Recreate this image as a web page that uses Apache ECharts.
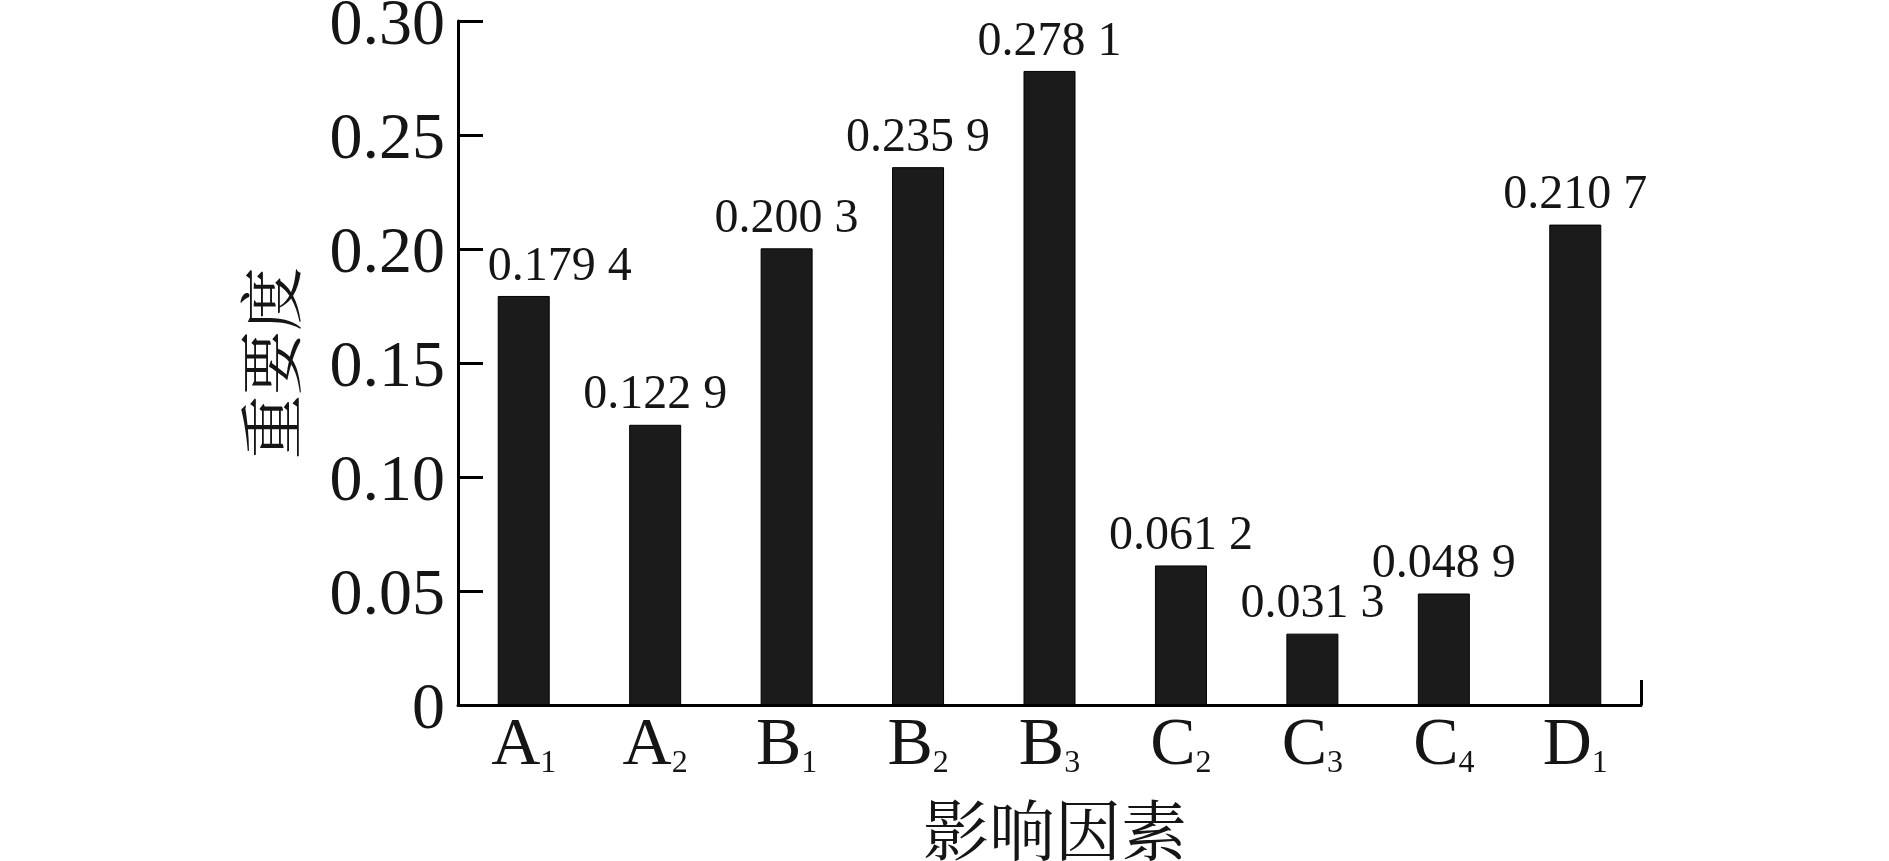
<!DOCTYPE html>
<html>
<head>
<meta charset="utf-8">
<script src="https://cdn.jsdelivr.net/npm/echarts@6/dist/echarts.min.js"></script>
<style>
html,body{margin:0;padding:0;background:#fff;}
#chart{width:1889px;height:861px;}
</style>
</head>
<body>
<div id="chart"></div>
<script>
// Data
const categories = ['A1', 'A2', 'B1', 'B2', 'B3', 'C2', 'C3', 'C4', 'D1'];
const importance = [0.1794, 0.1229, 0.2003, 0.2359, 0.2781, 0.0612, 0.0313, 0.0489, 0.2107];
const yTicks = [0, 0.05, 0.10, 0.15, 0.20, 0.25, 0.30];
const xName = '影响因素';
const yName = '重要度';

const serif = '"Liberation Serif", "Times New Roman", serif';
const cjk = '"Noto Serif CJK SC", "Noto Sans CJK SC", serif';
const ink = '#151515';

const chart = echarts.init(document.getElementById('chart'));

function fmtValue(v) {
  const s = v.toFixed(4);
  return s.slice(0, 5) + ' ' + s.slice(5);
}

const barData = importance.map((v, i) => {
  const item = { value: v };
  if (i === 0) item.label = { offset: [36, 0] };
  return item;
});

chart.setOption({
  animation: false,
  backgroundColor: '#fff',
  grid: { left: 458, right: 248, top: 21, bottom: 156, containLabel: false, outerBoundsMode: 'none' },
  xAxis: [
    {
      type: 'category',
      data: categories,
      z: 5,
      axisLine: { lineStyle: { color: '#000', width: 3 } },
      axisTick: { alignWithLabel: true, inside: true, length: 25, lineStyle: { color: '#000', width: 2 } },
      axisLabel: {
        margin: 7,
        formatter: v => '{m|' + v[0] + '}{s|' + v.slice(1) + '}',
        rich: {
          m: { fontFamily: serif, fontSize: 68, lineHeight: 68, color: ink, verticalAlign: 'bottom' },
          s: { fontFamily: serif, fontSize: 32, lineHeight: 44, color: ink, verticalAlign: 'bottom' }
        }
      },
      name: xName,
      nameLocation: 'middle',
      nameGap: 92,
      nameTextStyle: { fontFamily: cjk, fontSize: 66, color: ink, padding: [0, 0, 0, 11] }
    },
    {
      type: 'category',
      data: categories,
      position: 'bottom',
      z: 5,
      axisLine: { show: false },
      axisLabel: { show: false },
      axisTick: {
        show: true, inside: true, length: 25,
        interval: (i) => i === categories.length - 1,
        lineStyle: { color: '#000', width: 3 }
      }
    }
  ],
  yAxis: {
    type: 'value',
    min: yTicks[0],
    max: yTicks[yTicks.length - 1],
    interval: yTicks[1] - yTicks[0],
    splitLine: { show: false },
    axisLine: { show: true, lineStyle: { color: '#000', width: 3 } },
    axisTick: { show: true, inside: true, length: 25, lineStyle: { color: '#000', width: 3 } },
    axisLabel: {
      margin: 13,
      formatter: v => '{v|' + (v === 0 ? '0' : v.toFixed(2)) + '}',
      rich: {
        v: { fontFamily: serif, fontSize: 66, lineHeight: 66, color: ink, padding: [12, 0, 0, 0] }
      }
    },
    name: yName,
    nameLocation: 'middle',
    nameGap: 155,
    nameRotate: 90,
    nameTextStyle: { fontFamily: cjk, fontSize: 64, color: ink }
  },
  series: [{
    type: 'bar',
    xAxisIndex: 0,
    data: barData,
    barWidth: 52,
    itemStyle: { color: '#1b1b1b', borderColor: '#000', borderWidth: 1 },
    label: {
      show: true,
      position: 'top',
      distance: 5,
      fontFamily: serif,
      fontSize: 48,
      color: ink,
      formatter: p => fmtValue(p.value)
    }
  }]
});
</script>
</body>
</html>
